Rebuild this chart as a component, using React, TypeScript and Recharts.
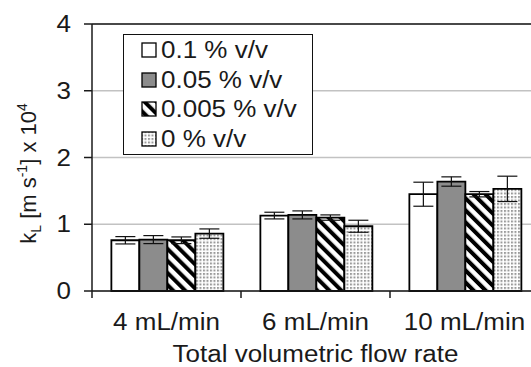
// kL bar chart by total flow rate, four surfactant concentrations

import { BarChart, Bar, XAxis, YAxis, CartesianGrid, ErrorBar, ReferenceLine, Label } from "recharts";

const categories = ["4 mL/min", "6 mL/min", "10 mL/min"];
const seriesNames = ["0.1 % v/v", "0.05 % v/v", "0.005 % v/v", "0 % v/v"];
const conc01 = [0.76, 1.13, 1.45];
const conc01Err = [0.055, 0.05, 0.18];
const conc005 = [0.77, 1.14, 1.64];
const conc005Err = [0.06, 0.06, 0.07];
const conc0005 = [0.76, 1.1, 1.45];
const conc0005Err = [0.05, 0.04, 0.04];
const conc0 = [0.86, 0.97, 1.53];
const conc0Err = [0.07, 0.09, 0.19];
const yTicks = [0, 1, 2, 3, 4];

const data = categories.map((name, i) => ({
  name,
  s0: conc01[i],
  e0: conc01Err[i],
  s1: conc005[i],
  e1: conc005Err[i],
  s2: conc0005[i],
  e2: conc0005Err[i],
  s3: conc0[i],
  e3: conc0Err[i],
}));

const FONT = "'Liberation Sans', Arial, sans-serif";
const INK = "#1a1a1a";
const FS = 23;
const SX = 1.13; // glyphs in the source are a little wider than Arial
const fills = ["#ffffff", "#8c8c8c", "url(#hatch)", "url(#dots)"];
const legendFills = ["#ffffff", "#8c8c8c", "url(#lhatch)", "url(#ldots)"];

const CHART_W = 560;
const PLOT_W = 447;
const band = PLOT_W / categories.length;

function Patterns({ prefix }: { prefix: string }) {
  return (
    <defs>
      <pattern id={prefix + "hatch"} width="8.5" height="8.5" patternUnits="userSpaceOnUse" patternTransform="rotate(-45)">
        <rect width="8.5" height="8.5" fill="#fff" />
        <rect width="4" height="8.5" fill="#000" />
      </pattern>
      <pattern id={prefix + "dots"} width="3.5" height="3.5" patternUnits="userSpaceOnUse">
        <rect width="3.5" height="3.5" fill="#fff" />
        <rect width="2" height="2" fill="#9a9a9a" />
      </pattern>
    </defs>
  );
}

function WideText({ x, y, anchor, children }: any) {
  return (
    <text transform={`translate(${x},${y}) scale(${SX},1)`} textAnchor={anchor} fontSize={FS} fontFamily={FONT} fill={INK}>
      {children}
    </text>
  );
}

function FlowTick(props: any) {
  const { x, y, payload, index } = props;
  return (
    <g>
      <line x1={x - band / 2} x2={x - band / 2} y1={y} y2={y + 7} stroke={INK} strokeWidth={1.5} />
      {index === categories.length - 1 && (
        <line x1={x + band / 2} x2={x + band / 2} y1={y} y2={y + 7} stroke={INK} strokeWidth={1.5} />
      )}
      <WideText x={x} y={y + 39} anchor="middle">
        {payload.value}
      </WideText>
    </g>
  );
}

function YTick(props: any) {
  const { x, y, payload } = props;
  return (
    <WideText x={x + 1} y={y + 8} anchor="end">
      {payload.value}
    </WideText>
  );
}

function XTitle(props: any) {
  const vb = props.viewBox;
  return (
    <WideText x={vb.x + vb.width / 2} y={362} anchor="middle">
      Total volumetric flow rate
    </WideText>
  );
}

function YTitle(props: any) {
  const vb = props.viewBox;
  const cy = vb.y + vb.height / 2 + 16;
  const cx = 36;
  return (
    <text transform={`translate(${cx},${cy}) rotate(-90)`} textAnchor="middle" fontSize={22} fontFamily={FONT} fill={INK}>
      k<tspan fontSize={14} dy={5}>L</tspan>
      <tspan dy={-5}> [m s</tspan>
      <tspan fontSize={14} dy={-9}>-1</tspan>
      <tspan dy={9}>] x 10</tspan>
      <tspan fontSize={14} dy={-9}>4</tspan>
    </text>
  );
}

function LegendBox() {
  return (
    <div
      style={{
        position: "absolute",
        left: 123,
        top: 34,
        border: "1.5px solid #111",
        background: "#fff",
        width: 190,
        height: 121,
        boxSizing: "border-box",
        padding: "1px 0 0 17px",
        fontFamily: FONT,
        fontSize: FS,
        color: INK,
      }}
    >
      {seriesNames.map((n, i) => (
        <div key={n} style={{ display: "flex", alignItems: "center", height: 29.5, whiteSpace: "nowrap" }}>
          <svg width={17} height={17} style={{ marginRight: 3, flex: "none" }}>
            {i === 0 && <Patterns prefix="l" />}
            <rect x={1} y={1} width={14} height={14} fill={legendFills[i]} stroke="#000" strokeWidth={1.3} />
          </svg>
          <span style={{ display: "inline-block", transform: `scaleX(${SX})`, transformOrigin: "left center" }}>{n}</span>
        </div>
      ))}
    </div>
  );
}

export default function App() {
  return (
    <div style={{ position: "absolute", left: 0, top: 0, width: 531, height: 367, overflow: "hidden", background: "#fff" }}>
      <BarChart
        width={CHART_W}
        height={367}
        data={data}
        margin={{ top: 24, right: CHART_W - 92 - PLOT_W, bottom: 0, left: 0 }}
        barCategoryGap="13%"
        barGap={0}
      >
        <Patterns prefix="" />
        <CartesianGrid vertical={false} stroke="#c2c2c2" strokeWidth={1.5} />
        <ReferenceLine y={4} stroke={INK} strokeWidth={1.5} />
        <XAxis
          dataKey="name"
          height={76}
          axisLine={{ stroke: INK, strokeWidth: 1.5 }}
          tickLine={false}
          tickSize={0}
          tickMargin={0}
          tick={<FlowTick />}
          interval={0}
        >
          <Label content={<XTitle />} />
        </XAxis>
        <YAxis
          width={92}
          domain={[0, 4]}
          ticks={yTicks}
          axisLine={{ stroke: INK, strokeWidth: 1.5 }}
          tickLine={{ stroke: INK, strokeWidth: 1.5 }}
          tickSize={8}
          tickMargin={14}
          tick={<YTick />}
        >
          <Label content={<YTitle />} />
        </YAxis>
        {seriesNames.map((n, i) => (
          <Bar key={n} dataKey={"s" + i} name={n} fill={fills[i]} stroke="#000" strokeWidth={1.8} isAnimationActive={false}>
            <ErrorBar dataKey={"e" + i} width={10} stroke="#111" strokeWidth={1.2} />
          </Bar>
        ))}
      </BarChart>
      <LegendBox />
    </div>
  );
}
